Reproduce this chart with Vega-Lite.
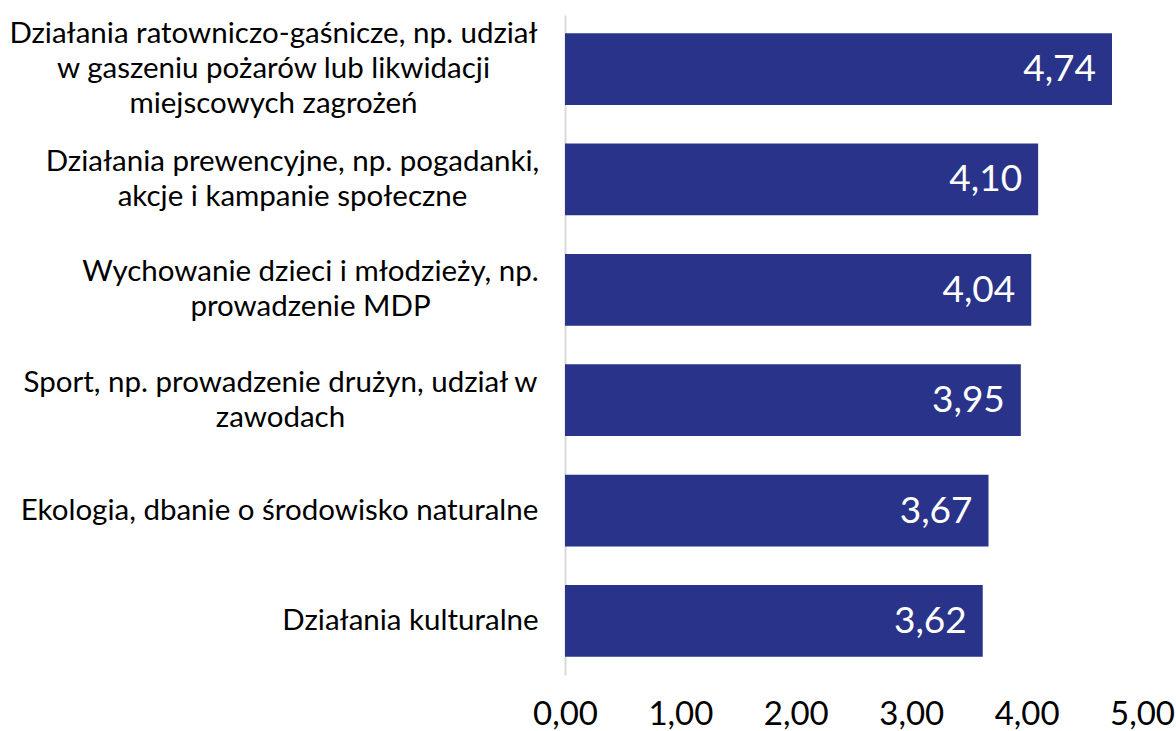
{
  "$schema": "https://vega.github.io/schema/vega-lite/v6.json",
  "autosize": {"type": "none"},
  "width": 577,
  "height": 660,
  "padding": {"left": 565, "top": 15, "right": 34, "bottom": 56},
  "background": "white",
  "config": {
    "view": {"stroke": null},
    "font": "Lato",
    "locale": {"number": {"decimal": ",", "thousands": " ", "grouping": [3], "currency": ["", " zł"]}}
  },
  "data": {
    "values": [
      {"kategoria": "Działania ratowniczo-gaśnicze, np. udział\nw gaszeniu pożarów lub likwidacji\nmiejscowych zagrożeń", "wartosc": 4.74},
      {"kategoria": "Działania prewencyjne, np. pogadanki,\nakcje i kampanie społeczne", "wartosc": 4.10},
      {"kategoria": "Wychowanie dzieci i młodzieży, np.\nprowadzenie MDP", "wartosc": 4.04},
      {"kategoria": "Sport, np. prowadzenie drużyn, udział w\nzawodach", "wartosc": 3.95},
      {"kategoria": "Ekologia, dbanie o środowisko naturalne", "wartosc": 3.67},
      {"kategoria": "Działania kulturalne", "wartosc": 3.62}
    ]
  },
  "encoding": {
    "y": {
      "field": "kategoria",
      "type": "nominal",
      "sort": null,
      "scale": {"paddingInner": 0.35, "paddingOuter": 0.165},
      "axis": {
        "title": null,
        "ticks": false,
        "domain": true,
        "domainColor": "#d9d9d9",
        "domainWidth": 2,
        "labelFont": "Lato",
        "labelFontSize": 29.5,
        "labelColor": "#000000",
        "labelLimit": 700,
        "labelLineHeight": 35,
        "labelAlign": "center",
        "labelBaseline": "middle",
        "labelExpr": "split(datum.label, '\\n')",
        "labelOffset": {
          "condition": [
            {"test": "indexof(datum.value, 'ratowniczo') >= 0", "value": -35},
            {"test": "indexof(datum.value, 'prewencyjne') >= 0", "value": -17.5},
            {"test": "indexof(datum.value, 'Wychowanie') >= 0", "value": -17.5},
            {"test": "indexof(datum.value, 'Sport') >= 0", "value": -17.5}
          ],
          "value": 0
        },
        "labelPadding": {
          "condition": [
            {"test": "indexof(datum.value, 'ratowniczo') >= 0", "value": 292},
            {"test": "indexof(datum.value, 'prewencyjne') >= 0", "value": 273},
            {"test": "indexof(datum.value, 'Wychowanie') >= 0", "value": 255},
            {"test": "indexof(datum.value, 'Sport') >= 0", "value": 285},
            {"test": "indexof(datum.value, 'Ekologia') >= 0", "value": 286}
          ],
          "value": 155
        }
      }
    },
    "x": {
      "field": "wartosc",
      "type": "quantitative",
      "scale": {"domain": [0, 5], "nice": false},
      "axis": {
        "title": null,
        "values": [0, 1, 2, 3, 4, 5],
        "format": ".2f",
        "grid": false,
        "ticks": false,
        "domain": false,
        "labelFont": "Lato",
        "labelFontSize": 33,
        "labelColor": "#000000",
        "labelPadding": 23,
        "labelFlush": false,
        "labelBound": false,
        "labelOverlap": false
      }
    }
  },
  "layer": [
    {"mark": {"type": "bar", "color": "#283389"}},
    {
      "mark": {"type": "text", "align": "right", "baseline": "middle", "dx": -16, "dy": 1, "color": "white", "font": "Lato", "fontSize": 37},
      "encoding": {
        "text": {"field": "wartosc", "type": "quantitative", "format": ".2f"}
      }
    }
  ]
}
